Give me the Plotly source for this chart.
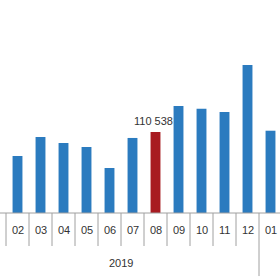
import plotly.graph_objects as go

months = ["02", "03", "04", "05", "06", "07", "08", "09", "10", "11", "12", "01"]
values = [77800, 103700, 95500, 90100, 61400, 102400, 110538, 146000, 142400, 137900, 202000, 112300]
highlight = "08"
year_label = "2019"

BLUE = "#2b7bbf"
RED = "#a81b21"
GRID = "#a0a0a0"

x = list(range(len(months)))
colors = [RED if m == highlight else BLUE for m in months]

fig = go.Figure(go.Bar(x=x, y=values, marker_color=colors, marker_line_width=0, width=0.43))

shapes = []
# boundaries between categories
for i in range(len(months) + 1):
    b = i - 0.5
    long = (i < len(months) and months[i] == "01") or (i > 0 and i < len(months) and months[i - 1] == "12")
    shapes.append(dict(type="line", xref="x", yref="paper", x0=b, x1=b, y0=0,
                       y1=-0.296 if long else -0.155, line=dict(color=GRID, width=1)))
shapes.append(dict(type="line", xref="paper", yref="paper", x0=0, x1=1, y0=0, y1=0,
                   line=dict(color=GRID, width=1)))

annotations = []
for xi, m in zip(x, months):
    annotations.append(dict(x=xi, y=-0.08, xref="x", yref="paper", text=m, showarrow=False,
                            font=dict(size=11, color="#333333"), yanchor="middle"))
hi = months.index(highlight)
annotations.append(dict(x=hi - 0.1, y=values[hi], xref="x", yref="y", text=f"{values[hi]:,}".replace(",", " "),
                        showarrow=False, yanchor="bottom", yshift=3,
                        font=dict(size=11, color="#333333")))
# year label centered over 2019 months (01..12 of 2019: index -1..10)
annotations.append(dict(x=(-1 + 10) / 2, y=-0.235, xref="x", yref="paper", text=year_label,
                        showarrow=False, yanchor="middle", font=dict(size=11, color="#333333")))

fig.update_layout(
    width=280, height=280,
    margin=dict(l=0, r=0, t=0, b=67),
    paper_bgcolor="white", plot_bgcolor="white",
    showlegend=False,
    xaxis=dict(range=[-0.761, 11.413], showticklabels=False, showgrid=False, zeroline=False, ticks=""),
    yaxis=dict(range=[0, 290680], visible=False),
    shapes=shapes, annotations=annotations,
    font=dict(family="Liberation Sans, Arial, sans-serif"),
)

fig.write_html("out.html", config={"displayModeBar": False})
